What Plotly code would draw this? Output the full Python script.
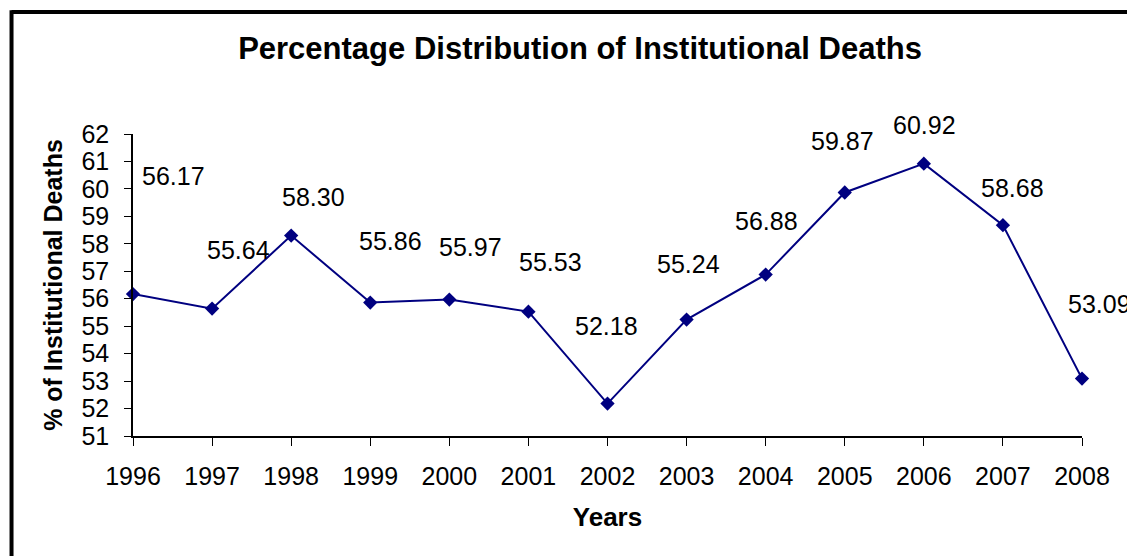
import plotly.graph_objects as go

years = ["1996", "1997", "1998", "1999", "2000", "2001", "2002",
         "2003", "2004", "2005", "2006", "2007", "2008"]
pct_deaths = [56.17, 55.64, 58.30, 55.86, 55.97, 55.53, 52.18,
              55.24, 56.88, 59.87, 60.92, 58.68, 53.09]
y_ticks = list(range(51, 63))

# hand-placed label offsets (pixels) like the moved excel labels
label_dx = [40, 26, 22, 20, 21, 22, -1, 2, 1, -2, 1, 10, 17]
label_dy = [118, 59, 39, 62, 53, 50, 78, 56, 54, 51, 39, 37, 75]

fig = go.Figure()
fig.add_trace(go.Scatter(
    x=years, y=pct_deaths, mode="lines+markers",
    line=dict(color="#000080", width=2),
    marker=dict(symbol="diamond", size=11, color="#000080"),
    showlegend=False, cliponaxis=False,
))

for i, v in enumerate(pct_deaths):
    fig.add_annotation(x=i, y=v, xref="x", yref="y", text=f"{v:.2f}",
                       showarrow=False,
                       xshift=label_dx[i], yshift=label_dy[i],
                       font=dict(size=25, color="black"))

# frame around the chart, cut off at right and bottom
fig.add_shape(type="line", xref="paper", yref="paper", x0=-0.128, x1=1.07,
              y0=1.404, y1=1.404, line=dict(color="black", width=4))
fig.add_shape(type="line", xref="paper", yref="paper", x0=-0.128, x1=-0.128,
              y0=1.41, y1=-0.45, line=dict(color="black", width=4))
fig.add_shape(type="line", xref="paper", yref="paper", x0=-0.135, x1=1.07,
              y0=1.424, y1=1.424, line=dict(color="black", width=1.5))

fig.update_layout(
    width=1135, height=556,
    margin=dict(l=125, r=61, t=126, b=128),
    paper_bgcolor="white", plot_bgcolor="white",
    font=dict(family="Liberation Sans, Arial, sans-serif", color="black"),
    title=dict(text="<b>Percentage Distribution of Institutional Deaths</b>",
               x=0.504, xanchor="center", y=0.928, yanchor="middle",
               font=dict(size=31)),
    xaxis=dict(
        type="category", range=[0, 12], showgrid=False, automargin=False,
        showline=True, linecolor="black", linewidth=1.5,
        ticks="outside", ticklen=8, tickcolor="black",
        tickfont=dict(size=25), ticklabelstandoff=9,
        title=dict(text="<b>Years</b>", font=dict(size=26), standoff=19),
    ),
    yaxis=dict(
        range=[51, 62], tickvals=y_ticks, showgrid=False, zeroline=False,
        automargin=False,
        showline=True, linecolor="black", linewidth=1.5,
        ticks="outside", ticklen=7, tickcolor="black",
        tickfont=dict(size=25), ticklabelstandoff=10,
        title=dict(text="<b>% of Institutional Deaths</b>", font=dict(size=25),
                   standoff=12),
    ),
)

fig.write_html("out.html")
